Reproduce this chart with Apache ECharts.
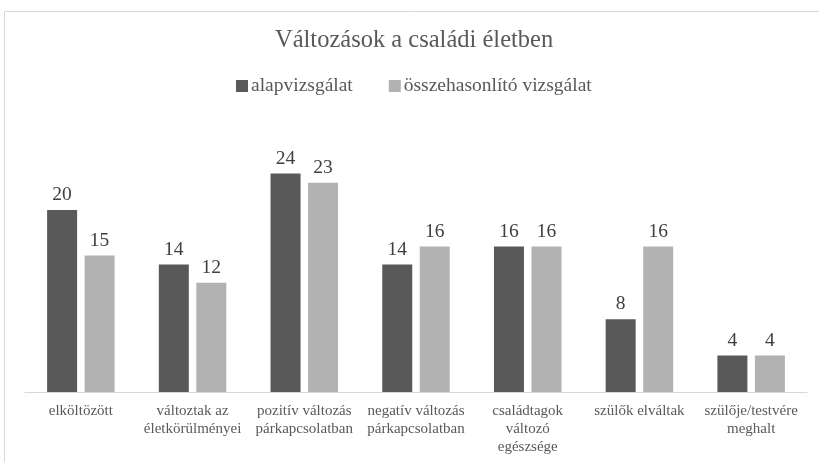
<!DOCTYPE html>
<html>
<head>
<meta charset="utf-8">
<script src="https://cdn.jsdelivr.net/npm/echarts@6/dist/echarts.min.js"></script>
<style>
  html, body { margin: 0; padding: 0; background: #fff; }
  #chart { width: 819px; height: 462px; }
</style>
</head>
<body>
<div id="chart"></div>
<script>
// 分类与数据
const categories = [
  'elköltözött',
  'változtak az\néletkörülményei',
  'pozitív változás\npárkapcsolatban',
  'negatív változás\npárkapcsolatban',
  'családtagok\nváltozó\negészsége',
  'szülők elváltak',
  'szülője/testvére\nmeghalt'
]
const seriesNames = ['alapvizsgálat', 'összehasonlító vizsgálat']
const baseValues = [20, 14, 24, 14, 16, 8, 4]
const compareValues = [15, 12, 23, 16, 16, 16, 4]

const font = '"Liberation Serif", "Times New Roman", serif'

const chart = echarts.init(document.getElementById('chart'), null, { renderer: 'canvas' })

const labelStyle = {
  show: true,
  position: 'top',
  distance: 5,
  color: '#404040',
  fontFamily: font,
  fontSize: 19.5
}

const option = {
  animation: false,
  backgroundColor: '#fff',
  graphic: [{
    type: 'rect',
    shape: { x: 4.5, y: 11.5, width: 840, height: 480 },
    style: { fill: 'none', stroke: '#d9d9d9', lineWidth: 1 },
    silent: true
  }],
  title: {
    text: 'Változások a családi életben',
    left: 275,
    top: 28,
    padding: 0,
    textStyle: { color: '#595959', fontFamily: font, fontSize: 24.5, fontWeight: 'normal' }
  },
  legend: {
    data: seriesNames,
    top: 76,
    left: 236,
    padding: 0,
    itemWidth: 12,
    itemHeight: 12,
    itemGap: 36,
    icon: 'rect',
    textStyle: { color: '#595959', fontFamily: font, fontSize: 19.5, padding: [0, 0, 0, -2] }
  },
  grid: { left: 25, right: 12, top: 119, bottom: 70 },
  xAxis: {
    type: 'category',
    data: categories,
    axisTick: { show: false },
    axisLine: { lineStyle: { color: '#d9d9d9', width: 1 } },
    axisLabel: {
      color: '#595959',
      fontFamily: font,
      fontSize: 15,
      lineHeight: 18,
      margin: 10,
      interval: 0
    }
  },
  yAxis: {
    type: 'value',
    min: 0,
    max: 30,
    show: false,
    splitLine: { show: false }
  },
  series: [
    {
      name: seriesNames[0],
      type: 'bar',
      data: baseValues,
      barWidth: 30,
      barGap: '25%',
      itemStyle: { color: '#595959' },
      label: labelStyle
    },
    {
      name: seriesNames[1],
      type: 'bar',
      data: compareValues,
      barWidth: 30,
      barGap: '25%',
      itemStyle: { color: '#b2b2b2' },
      label: labelStyle
    }
  ]
}

chart.setOption(option)
</script>
</body>
</html>
